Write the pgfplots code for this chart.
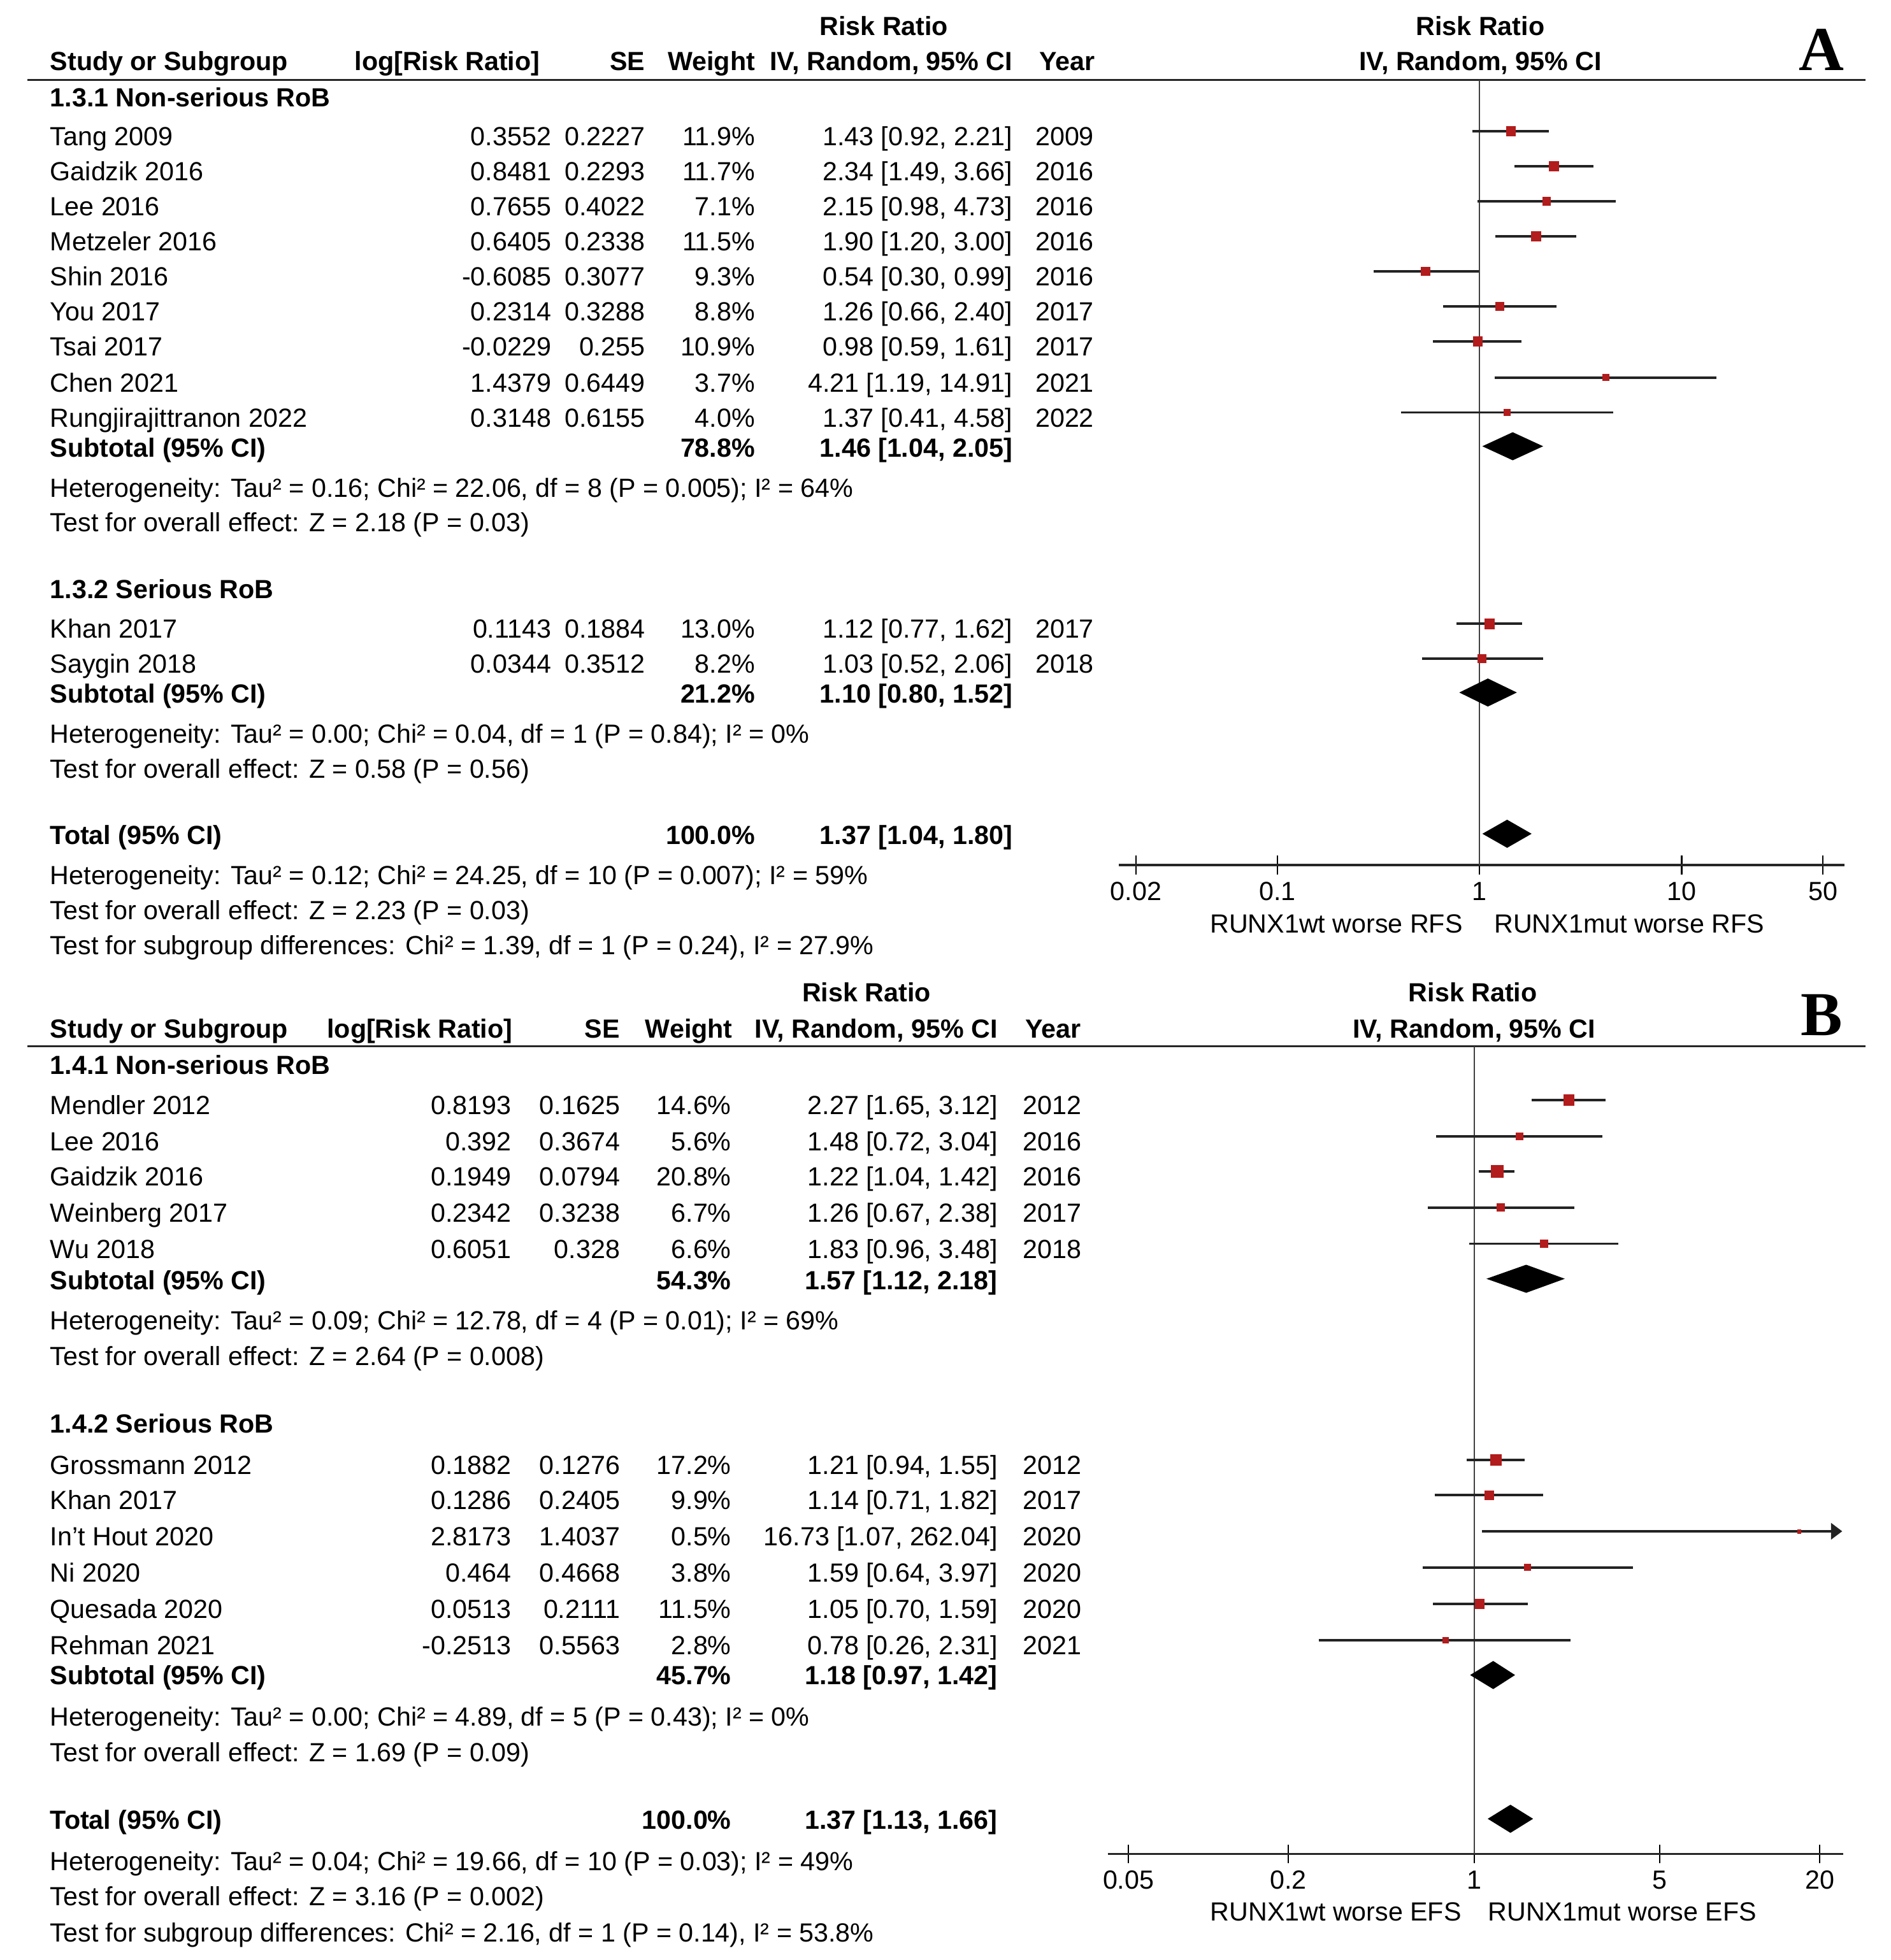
\documentclass[border=0pt]{standalone}
\usepackage{fontspec}
\setmainfont{Liberation Sans}
\newfontfamily\tnr{Liberation Serif}
\usepackage{pgfplots}
\pgfplotsset{compat=1.18}
\usetikzlibrary{arrows.meta}

\definecolor{sqred}{RGB}{178,28,28}
\definecolor{cigray}{RGB}{35,35,35}

\newcommand{\fs}{\fontsize{21bp}{25bp}\selectfont}

% forest plot pieces (y = minus pixel row)
\pgfplotsset{
  cil/.style={draw=cigray, line width=1.9bp},
  fp/.style={anchor=south west, scale only axis,
    axis x line*=bottom, axis y line=none, clip=false,
    tick align=center, major tick length=15bp, xminorticks=false,
    axis line style={line width=1.8bp, draw=black!85},
    major tick style={line width=1.1bp, black},
    xticklabel style={font=\fs, anchor=north, yshift=-6bp}},
}
\newcommand{\study}[5]{%
  \addplot[cil] coordinates {(#3,#1) (#4,#1)};
  \addplot[only marks, mark=square*, mark size=#5bp, color=sqred] coordinates {(#2,#1)};}
\newcommand{\diam}[6]{%
  \addplot[fill=black, draw=black, line width=0.4bp] coordinates {(#3,#1) (#2,#5) (#4,#1) (#2,#6)} -- cycle;}

% table text
\newcommand{\hd}[3]{\node[anchor=#1, font=\fs\bfseries] at #2 {#3};}
\newcommand{\lt}[2]{\node[anchor=base west] at (40,#1) {#2};}
\newcommand{\lb}[2]{\node[anchor=base west, font=\fs\bfseries] at (40,#1) {#2};}
\newcommand{\srow}[7]{%
  \node[anchor=base west] at (40,#1) {#2};
  \node[anchor=base east] at (\cLog,#1) {#3};
  \node[anchor=base east] at (\cSE,#1) {#4};
  \node[anchor=base east] at (\cW,#1) {#5};
  \node[anchor=base east] at (\cCI,#1) {#6};
  \node[anchor=base west] at (\cYr,#1) {#7};}
\newcommand{\subrow}[4]{%
  \node[anchor=base west, font=\fs\bfseries] at (40,#1) {#2};
  \node[anchor=base east, font=\fs\bfseries] at (\cW,#1) {#3};
  \node[anchor=base east, font=\fs\bfseries] at (\cCI,#1) {#4};}

\begin{document}
\begin{tikzpicture}[x=1bp, y=-1bp, every node/.style={inner sep=0pt, font=\fs}]
\path[use as bounding box, fill=white] (0,0) rectangle (1512,1568);

%%% Panel A
\def\cLog{441}\def\cSE{516}\def\cW{604}\def\cCI{810}\def\cYr{828}
\hd{base}{(707,28.5)}{Risk Ratio}
\hd{base}{(1184,28.5)}{Risk Ratio}
\hd{base west}{(40,56.5)}{Study or Subgroup}
\hd{base east}{(432,56.5)}{log[Risk Ratio]}
\hd{base east}{(516,56.5)}{SE}
\hd{base east}{(604,56.5)}{Weight}
\hd{base east}{(810,56.5)}{IV, Random, 95\% CI}
\hd{base west}{(831,56.5)}{Year}
\hd{base}{(1184,56.5)}{IV, Random, 95\% CI}
\node[font=\tnr\fontsize{50bp}{50bp}\selectfont\bfseries] at (1457,40) {A};
\draw[line width=1.8bp, black!85] (22,64) -- (1492,64);

\lb{85.5}{1.3.1 Non-serious RoB}
\srow{116.5}{Tang 2009}{0.3552}{0.2227}{11.9\%}{1.43 [0.92, 2.21]}{2009}
\srow{144.5}{Gaidzik 2016}{0.8481}{0.2293}{11.7\%}{2.34 [1.49, 3.66]}{2016}
\srow{172.5}{Lee 2016}{0.7655}{0.4022}{7.1\%}{2.15 [0.98, 4.73]}{2016}
\srow{200.5}{Metzeler 2016}{0.6405}{0.2338}{11.5\%}{1.90 [1.20, 3.00]}{2016}
\srow{228.5}{Shin 2016}{-0.6085}{0.3077}{9.3\%}{0.54 [0.30, 0.99]}{2016}
\srow{256.5}{You 2017}{0.2314}{0.3288}{8.8\%}{1.26 [0.66, 2.40]}{2017}
\srow{284.5}{Tsai 2017}{-0.0229}{0.255}{10.9\%}{0.98 [0.59, 1.61]}{2017}
\srow{313.5}{Chen 2021}{1.4379}{0.6449}{3.7\%}{4.21 [1.19, 14.91]}{2021}
\srow{341.5}{Rungjirajittranon 2022}{0.3148}{0.6155}{4.0\%}{1.37 [0.41, 4.58]}{2022}
\subrow{365.5}{Subtotal (95\% CI)}{78.8\%}{1.46 [1.04, 2.05]}
\lt{397.5}{Heterogeneity: Tau² = 0.16; Chi² = 22.06, df = 8 (P = 0.005); I² = 64\%}
\lt{425.5}{Test for overall effect: Z = 2.18 (P = 0.03)}
\lb{478.5}{1.3.2 Serious RoB}
\srow{510.5}{Khan 2017}{0.1143}{0.1884}{13.0\%}{1.12 [0.77, 1.62]}{2017}
\srow{538.5}{Saygin 2018}{0.0344}{0.3512}{8.2\%}{1.03 [0.52, 2.06]}{2018}
\subrow{562.5}{Subtotal (95\% CI)}{21.2\%}{1.10 [0.80, 1.52]}
\lt{594.5}{Heterogeneity: Tau² = 0.00; Chi² = 0.04, df = 1 (P = 0.84); I² = 0\%}
\lt{622.5}{Test for overall effect: Z = 0.58 (P = 0.56)}
\subrow{675.5}{Total (95\% CI)}{100.0\%}{1.37 [1.04, 1.80]}
\lt{707.5}{Heterogeneity: Tau² = 0.12; Chi² = 24.25, df = 10 (P = 0.007); I² = 59\%}
\lt{735.5}{Test for overall effect: Z = 2.23 (P = 0.03)}
\lt{763.5}{Test for subgroup differences: Chi² = 1.39, df = 1 (P = 0.24), I² = 27.9\%}
\node[anchor=base east] at (1170,746.5) {RUNX1wt worse RFS};
\node[anchor=base west] at (1195,746.5) {RUNX1mut worse RFS};

\begin{semilogxaxis}[fp, at={(895bp,-692bp)}, width=580bp, height=628bp,
  xmin=0.01648, xmax=63.7, ymin=-692, ymax=-64,
  xtick={0.02,0.1,1,10,50}, xticklabels={0.02,0.1,1,10,50}]
\addplot[draw=black!75, line width=1.2bp] coordinates {(1,-64) (1,-692)};
\study{-105}{1.43}{0.92}{2.21}{3.8}
\study{-133}{2.34}{1.49}{3.66}{3.8}
\study{-161}{2.15}{0.98}{4.73}{3.15}
\study{-189}{1.90}{1.20}{3.00}{3.75}
\study{-217}{0.54}{0.30}{0.99}{3.45}
\study{-245}{1.26}{0.66}{2.40}{3.4}
\study{-273}{0.98}{0.59}{1.61}{3.7}
\study{-302}{4.21}{1.19}{14.91}{2.5}
\study{-330}{1.37}{0.41}{4.58}{2.6}
\diam{-357}{1.46}{1.04}{2.05}{-346}{-368}
\study{-499}{1.12}{0.77}{1.62}{3.9}
\study{-527}{1.03}{0.52}{2.06}{3.3}
\diam{-554}{1.10}{0.80}{1.52}{-543}{-565}
\diam{-667}{1.37}{1.04}{1.80}{-656}{-678}
\end{semilogxaxis}

%%% Panel B
\def\cLog{409}\def\cSE{496}\def\cW{585}\def\cCI{798}\def\cYr{818}
\hd{base}{(693,801.5)}{Risk Ratio}
\hd{base}{(1178,801.5)}{Risk Ratio}
\hd{base west}{(40,830.5)}{Study or Subgroup}
\hd{base east}{(410,830.5)}{log[Risk Ratio]}
\hd{base east}{(496,830.5)}{SE}
\hd{base east}{(586,830.5)}{Weight}
\hd{base east}{(798,830.5)}{IV, Random, 95\% CI}
\hd{base west}{(820,830.5)}{Year}
\hd{base}{(1179,830.5)}{IV, Random, 95\% CI}
\node[font=\tnr\fontsize{50bp}{50bp}\selectfont\bfseries] at (1457,812) {B};
\draw[line width=1.8bp, black!85] (22,837) -- (1492,837);

\lb{859.5}{1.4.1 Non-serious RoB}
\srow{891.5}{Mendler 2012}{0.8193}{0.1625}{14.6\%}{2.27 [1.65, 3.12]}{2012}
\srow{920.5}{Lee 2016}{0.392}{0.3674}{5.6\%}{1.48 [0.72, 3.04]}{2016}
\srow{948.5}{Gaidzik 2016}{0.1949}{0.0794}{20.8\%}{1.22 [1.04, 1.42]}{2016}
\srow{977.5}{Weinberg 2017}{0.2342}{0.3238}{6.7\%}{1.26 [0.67, 2.38]}{2017}
\srow{1006.5}{Wu 2018}{0.6051}{0.328}{6.6\%}{1.83 [0.96, 3.48]}{2018}
\subrow{1031.5}{Subtotal (95\% CI)}{54.3\%}{1.57 [1.12, 2.18]}
\lt{1063.5}{Heterogeneity: Tau² = 0.09; Chi² = 12.78, df = 4 (P = 0.01); I² = 69\%}
\lt{1092.5}{Test for overall effect: Z = 2.64 (P = 0.008)}
\lb{1146.5}{1.4.2 Serious RoB}
\srow{1179.5}{Grossmann 2012}{0.1882}{0.1276}{17.2\%}{1.21 [0.94, 1.55]}{2012}
\srow{1207.5}{Khan 2017}{0.1286}{0.2405}{9.9\%}{1.14 [0.71, 1.82]}{2017}
\srow{1236.5}{In't Hout 2020}{2.8173}{1.4037}{0.5\%}{16.73 [1.07, 262.04]}{2020}
\srow{1265.5}{Ni 2020}{0.464}{0.4668}{3.8\%}{1.59 [0.64, 3.97]}{2020}
\srow{1294.5}{Quesada 2020}{0.0513}{0.2111}{11.5\%}{1.05 [0.70, 1.59]}{2020}
\srow{1323.5}{Rehman 2021}{-0.2513}{0.5563}{2.8\%}{0.78 [0.26, 2.31]}{2021}
\subrow{1347.5}{Subtotal (95\% CI)}{45.7\%}{1.18 [0.97, 1.42]}
\lt{1380.5}{Heterogeneity: Tau² = 0.00; Chi² = 4.89, df = 5 (P = 0.43); I² = 0\%}
\lt{1409.5}{Test for overall effect: Z = 1.69 (P = 0.09)}
\subrow{1463.5}{Total (95\% CI)}{100.0\%}{1.37 [1.13, 1.66]}
\lt{1496.5}{Heterogeneity: Tau² = 0.04; Chi² = 19.66, df = 10 (P = 0.03); I² = 49\%}
\lt{1524.5}{Test for overall effect: Z = 3.16 (P = 0.002)}
\lt{1553.5}{Test for subgroup differences: Chi² = 2.16, df = 1 (P = 0.14), I² = 53.8\%}
\node[anchor=base east] at (1169,1536.5) {RUNX1wt worse EFS};
\node[anchor=base west] at (1190,1536.5) {RUNX1mut worse EFS};

\begin{semilogxaxis}[fp, at={(886bp,-1483bp)}, width=588bp, height=646bp,
  xmin=0.04179, xmax=24.45, ymin=-1483, ymax=-837,
  xtick={0.05,0.2,1,5,20}, xticklabels={0.05,0.2,1,5,20}]
\addplot[draw=black!75, line width=1.2bp] coordinates {(1,-837) (1,-1483)};
\study{-880}{2.27}{1.65}{3.12}{4.1}
\study{-909}{1.48}{0.72}{3.04}{2.9}
\study{-937}{1.22}{1.04}{1.42}{4.7}
\study{-966}{1.26}{0.67}{2.38}{3.1}
\study{-995}{1.83}{0.96}{3.48}{3.1}
\diam{-1023}{1.57}{1.12}{2.18}{-1012}{-1034}
\study{-1168}{1.21}{0.94}{1.55}{4.35}
\study{-1196}{1.14}{0.71}{1.82}{3.55}
% In't Hout: CI runs past 20, drawn with an arrow
\addplot[cil, -{Triangle[length=9bp, width=13bp]}] coordinates {(1.07,-1225) (24.3,-1225)};
\addplot[only marks, mark=square*, mark size=1.5bp, color=sqred] coordinates {(16.73,-1225)};
\study{-1254}{1.59}{0.64}{3.97}{2.55}
\study{-1283}{1.05}{0.70}{1.59}{3.75}
\study{-1312}{0.78}{0.26}{2.31}{2.35}
\diam{-1340}{1.18}{0.97}{1.42}{-1329}{-1351}
\diam{-1455}{1.37}{1.13}{1.66}{-1444}{-1466}
\end{semilogxaxis}
\end{tikzpicture}
\end{document}
